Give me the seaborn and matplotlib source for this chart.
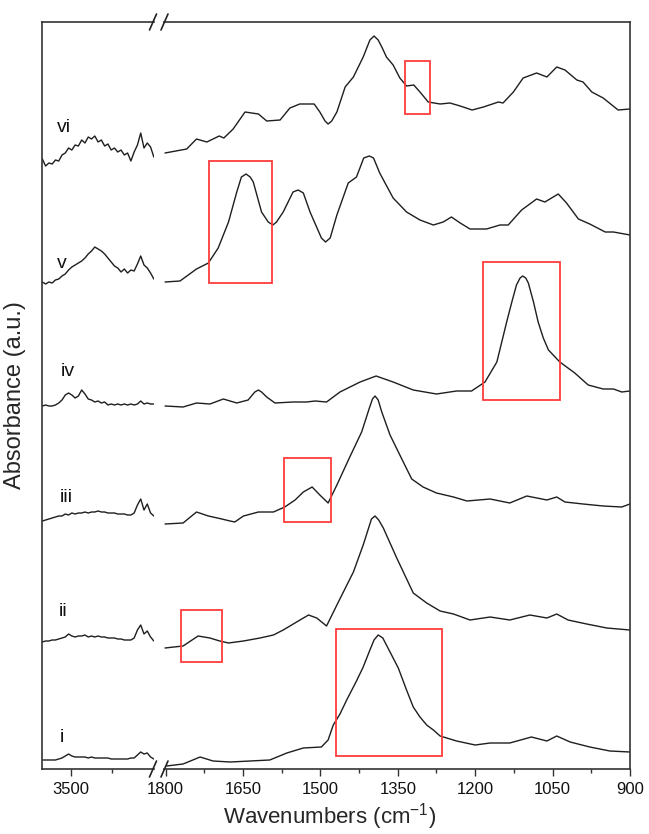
import matplotlib.pyplot as plt
import seaborn as sns
from matplotlib.lines import Line2D
from matplotlib.patches import Rectangle

sns.set_style('ticks')
plt.rcParams['font.family'] = ['Liberation Sans', 'DejaVu Sans']
plt.rcParams['mathtext.default'] = 'regular'

# ---- left panel (O-H / C-H region), shared wavenumber grid ----
wn_left = [3675, 3655, 3635, 3615, 3595, 3575, 3555, 3535, 3515, 3495, 3475, 3455,
           3435, 3415, 3395, 3375, 3355, 3335, 3315, 3295, 3275, 3255, 3235, 3215,
           3195, 3175, 3155, 3135, 3115, 3095, 3075, 3055, 3035, 3015, 2995]
left_i = [9, 9, 9, 9, 9, 10, 11, 13, 15, 13, 12, 12, 12, 12, 11, 12, 11, 11, 11, 11,
          11, 10, 10, 10, 10, 10, 10, 11, 11, 14, 17, 15, 16, 12, 10]
left_ii = [127, 128, 128, 129, 129, 130, 131, 132, 135, 133, 132, 133, 133, 134, 132,
           133, 132, 133, 132, 132, 131, 131, 131, 130, 130, 129, 129, 129, 131, 139,
           144, 135, 138, 132, 128]
left_iii = [248, 249, 250, 251, 252, 253, 253, 255, 254, 256, 255, 256, 256, 257, 256,
            257, 257, 258, 257, 257, 256, 256, 256, 255, 255, 255, 254, 254, 256, 264,
            270, 259, 265, 256, 253]
left_iv = [363, 364, 363, 363, 364, 366, 369, 374, 376, 374, 371, 373, 379, 375, 370,
           369, 367, 368, 366, 367, 364, 365, 364, 365, 364, 365, 364, 365, 364, 365,
           368, 365, 366, 365, 365]
left_v = [487, 485, 487, 486, 489, 490, 493, 495, 499, 502, 504, 506, 508, 511, 515,
          518, 522, 520, 518, 515, 511, 507, 503, 501, 497, 500, 496, 499, 498, 505,
          513, 504, 501, 496, 490]
left_vi = [610, 603, 606, 605, 609, 608, 614, 616, 621, 619, 624, 623, 629, 626, 632,
           630, 633, 627, 629, 623, 625, 619, 621, 617, 619, 614, 616, 608, 617, 624,
           636, 621, 626, 622, 612]

# ---- right panel (fingerprint region) ----
wn_i = [1798, 1766, 1733, 1708, 1675, 1636, 1598, 1565, 1533, 1498, 1485, 1475, 1462,
        1449, 1430, 1417, 1404, 1396, 1388, 1379, 1372, 1359, 1349, 1333, 1320, 1307,
        1294, 1281, 1268, 1236, 1200, 1171, 1133, 1091, 1061, 1042, 1016, 978, 939, 900]
ab_i = [3, 5, 12, 8, 7, 8, 9, 16, 21, 22, 29, 44, 55, 69, 88, 102, 119, 129, 134, 131,
        124, 111, 101, 79, 62, 52, 44, 39, 33, 28, 24, 26, 26, 32, 28, 33, 27, 22, 18, 17]

wn_ii = [1801, 1766, 1737, 1714, 1695, 1678, 1649, 1617, 1591, 1572, 1546, 1523, 1507,
         1488, 1468, 1436, 1417, 1401, 1394, 1387, 1378, 1352, 1320, 1294, 1268, 1242,
         1210, 1171, 1133, 1094, 1061, 1042, 1020, 984, 945, 900]
ab_ii = [121, 123, 133, 131, 128, 126, 128, 131, 134, 139, 147, 154, 151, 143, 164, 197,
         224, 250, 253, 249, 241, 211, 176, 166, 158, 155, 149, 152, 149, 154, 151, 155,
         149, 145, 141, 139]

wn_iii = [1801, 1766, 1740, 1717, 1691, 1675, 1666, 1649, 1620, 1591, 1569, 1549, 1533,
          1516, 1501, 1485, 1468, 1443, 1420, 1405, 1399, 1394, 1388, 1381, 1365, 1346,
          1323, 1301, 1275, 1242, 1216, 1171, 1133, 1100, 1061, 1042, 1026, 991, 952, 916,
          900]
ab_iii = [245, 246, 257, 253, 250, 248, 247, 253, 257, 257, 262, 269, 277, 282, 274, 266,
          284, 312, 337, 361, 370, 373, 369, 357, 334, 314, 290, 282, 276, 272, 268, 270,
          266, 273, 269, 272, 267, 265, 263, 262, 265]

wn_iv = [1801, 1766, 1740, 1714, 1688, 1662, 1640, 1627, 1620, 1614, 1604, 1588, 1553,
         1527, 1510, 1488, 1462, 1423, 1392, 1359, 1320, 1275, 1236, 1207, 1181, 1158,
         1139, 1129, 1120, 1113, 1108, 1102, 1097, 1087, 1078, 1068, 1058, 1036, 1007, 981,
         952, 932, 916, 900]
ab_iv = [363, 362, 366, 365, 370, 366, 369, 377, 379, 377, 372, 366, 367, 367, 368, 367,
         377, 387, 393, 387, 379, 375, 378, 378, 387, 407, 447, 467, 484, 491, 493, 491,
         486, 467, 447, 431, 419, 407, 396, 384, 380, 380, 377, 378]

wn_v = [1801, 1772, 1740, 1717, 1698, 1678, 1662, 1653, 1644, 1636, 1630, 1614, 1601,
        1592, 1585, 1572, 1553, 1543, 1533, 1520, 1498, 1490, 1481, 1468, 1446, 1430, 1416,
        1405, 1397, 1385, 1359, 1333, 1307, 1281, 1262, 1246, 1229, 1210, 1178, 1152, 1136,
        1110, 1081, 1065, 1039, 1023, 1000, 978, 948, 932, 900]
ab_v = [487, 488, 500, 506, 521, 547, 577, 592, 595, 592, 587, 557, 547, 544, 547, 557,
        577, 579, 576, 557, 531, 527, 531, 554, 586, 592, 611, 613, 611, 596, 571, 557, 549,
        544, 547, 552, 546, 540, 540, 544, 544, 559, 570, 567, 575, 566, 550, 545, 537,
        537, 534]

wn_vi = [1801, 1759, 1740, 1720, 1696, 1687, 1669, 1646, 1620, 1604, 1578, 1559, 1540,
         1512, 1501, 1491, 1485, 1478, 1468, 1452, 1436, 1417, 1404, 1396, 1388, 1380, 1372,
         1359, 1346, 1333, 1319, 1307, 1291, 1268, 1249, 1229, 1206, 1184, 1155, 1146, 1126,
         1107, 1081, 1061, 1042, 1026, 1003, 991, 974, 952, 923, 900]
ab_vi = [616, 620, 630, 627, 633, 631, 640, 657, 655, 648, 649, 661, 665, 665, 657, 648,
         645, 648, 657, 682, 692, 712, 729, 733, 729, 721, 712, 704, 691, 683, 684, 677,
         667, 665, 666, 663, 659, 662, 667, 666, 677, 691, 696, 692, 702, 699, 689, 687,
         677, 671, 659, 660]

sample_labels = ['i', 'ii', 'iii', 'iv', 'v', 'vi']
left_series = [left_i, left_ii, left_iii, left_iv, left_v, left_vi]
right_wn = [wn_i, wn_ii, wn_iii, wn_iv, wn_v, wn_vi]
right_ab = [ab_i, ab_ii, ab_iii, ab_iv, ab_v, ab_vi]

# highlighted bands (wavenumber range, absorbance range) per sample
box_wn = [(1470, 1265), (1771, 1691), (1571, 1480), (1184, 1036), (1716, 1594), (1336, 1288)]
box_ab = [(13, 140), (107, 159), (247, 311), (369, 507), (486, 608), (655, 708)]

fig = plt.figure(figsize=(6.49, 8.34), dpi=100)
axL = fig.add_axes([42 / 649, 65 / 834, 112 / 649, 747 / 834])
axR = fig.add_axes([164 / 649, 65 / 834, 466 / 649, 747 / 834])

line_kw = dict(color='#1e1e1e', lw=1.0, estimator=None, sort=False, legend=False)
for vals in left_series:
    sns.lineplot(x=wn_left, y=vals, ax=axL, **line_kw)
for wn, ab in zip(right_wn, right_ab):
    sns.lineplot(x=wn, y=ab, ax=axR, **line_kw)

for (w0, w1), (a0, a1) in zip(box_wn, box_ab):
    axR.add_patch(Rectangle((w1, a0), w0 - w1, a1 - a0, fill=False,
                            ec='#ff3c3c', lw=1.3, zorder=3))

# sample labels
label_pos = [(3553, 32), (3547, 157), (3526, 272), (3520, 397), (3555, 506), (3540, 642)]
for lab, (lx, ly) in zip(sample_labels, label_pos):
    axL.text(lx, ly, lab, fontsize=14, ha='center', va='center', color='#111111')

axL.set_xlim(3677, 2994)
axR.set_xlim(1803, 900)
for ax in (axL, axR):
    ax.set_ylim(0, 747)
    ax.set_yticks([])
    ax.set_xlabel('')
    ax.set_ylabel('')
    for s in ax.spines.values():
        s.set_linewidth(1.2)
        s.set_color('#333333')
    ax.tick_params(axis='x', which='major', direction='out', length=5, width=1.0,
                   labelsize=12, colors='#333333', labelcolor='#111111', pad=4)
    ax.tick_params(axis='x', which='minor', direction='out', length=3, width=1.0,
                   colors='#333333')
    ax.tick_params(axis='y', left=False, right=False)
axL.spines['right'].set_visible(False)
axR.spines['left'].set_visible(False)

axL.set_xticks([3500])
axL.set_xticks([3250], minor=True)
axR.set_xticks([1800, 1650, 1500, 1350, 1200, 1050, 900])
axR.set_xticks([1725, 1575, 1425, 1275, 1125, 975], minor=True)

# axis break marks
for xc in (153, 164.5):
    for yc in (22, 769):
        fig.add_artist(Line2D([(xc - 3.5) / 649, (xc + 3.5) / 649],
                              [1 - (yc + 8) / 834, 1 - (yc - 8) / 834],
                              transform=fig.transFigure, color='#222222', lw=1.2))

fig.text(330 / 649, 1 - 817 / 834, 'Wavenumbers (cm$^{-1}$)', ha='center', va='center',
         fontsize=16)
fig.text(15 / 649, 1 - 395 / 834, 'Absorbance (a.u.)', rotation=90, ha='center',
         va='center', fontsize=17)

fig.savefig('out.png', dpi=100)
